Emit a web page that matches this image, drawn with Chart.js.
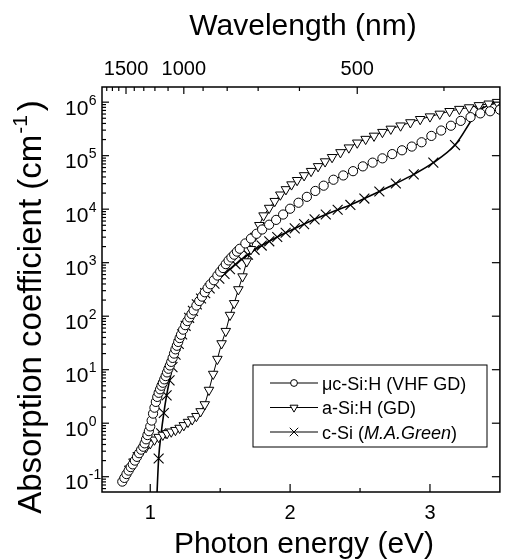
<!DOCTYPE html>
<html>
<head>
<meta charset="utf-8">
<script src="https://cdn.jsdelivr.net/npm/chart.js@4/dist/chart.umd.min.js"></script>
<style>
html, body { margin: 0; padding: 0; overflow: hidden; background: #fff; }
#wrap { width: 508px; height: 560px; }
</style>
</head>
<body>
<div id="wrap"><canvas id="absgraph" width="508" height="560"></canvas></div>
<script>
// photon energy (eV) / absorption coefficient (cm^-1)
const muEnergy = [0.80, 0.815, 0.83, 0.845, 0.86, 0.875, 0.89, 0.905, 0.92, 0.935, 0.95, 0.96, 0.97, 0.98, 0.99, 1.00, 1.01, 1.02, 1.03, 1.04,
  1.05, 1.06, 1.07, 1.08, 1.09, 1.10, 1.11, 1.12, 1.13, 1.14, 1.15, 1.16, 1.17, 1.18, 1.19, 1.20, 1.21, 1.22, 1.235, 1.25,
  1.265, 1.28, 1.295, 1.31, 1.33, 1.35, 1.37, 1.39, 1.41, 1.43, 1.455, 1.48, 1.50, 1.52, 1.54, 1.56, 1.58, 1.60, 1.62, 1.64,
  1.68, 1.72, 1.76, 1.80, 1.85, 1.90, 1.95, 2.00, 2.06, 2.12, 2.18, 2.24, 2.31, 2.38, 2.45, 2.52, 2.59, 2.66, 2.73, 2.80,
  2.87, 2.94, 3.01, 3.08, 3.15, 3.22, 3.29, 3.36, 3.43, 3.50];
const muAlpha = [0.081, 0.095, 0.112, 0.13, 0.151, 0.17, 0.20, 0.235, 0.275, 0.32, 0.363, 0.42, 0.50, 0.60, 0.71, 0.87, 1.12, 1.51, 1.95, 2.5,
  3.1, 3.7, 4.3, 5.0, 5.7, 6.6, 7.6, 8.9, 10.4, 12, 14, 16.6, 20, 24, 28, 33, 39, 45, 56, 68,
  81, 95, 110, 128, 158, 192, 232, 280, 335, 395, 470, 575, 680, 794, 940, 1100, 1250, 1410, 1610, 1820,
  2290, 2820, 3470, 4170, 5130, 6310, 7940, 10200, 13200, 17000, 21900, 27500, 35500, 42700, 51300, 63100, 74100, 89100, 107000, 126000,
  148000, 178000, 234000, 295000, 363000, 447000, 525000, 617000, 676000, 724000];

const aEnergy = [0.85, 0.88, 0.91, 0.94, 0.97, 1.00, 1.03, 1.06, 1.09, 1.12, 1.15, 1.18, 1.21, 1.24, 1.27, 1.30, 1.33, 1.36, 1.39, 1.42,
  1.45, 1.48, 1.51, 1.54, 1.57, 1.60, 1.63, 1.66, 1.69, 1.72, 1.75, 1.78, 1.81, 1.85, 1.89, 1.93, 1.97, 2.01, 2.05, 2.10,
  2.15, 2.20, 2.25, 2.30, 2.36, 2.42, 2.48, 2.54, 2.60, 2.66, 2.72, 2.79, 2.86, 2.93, 3.00, 3.07, 3.14, 3.21, 3.28, 3.35, 3.42, 3.48];
const aAlpha = [0.141, 0.191, 0.251, 0.302, 0.355, 0.417, 0.49, 0.55, 0.603, 0.646, 0.692, 0.741, 0.813, 0.912, 1.05, 1.17, 1.35, 1.66, 2.24, 4.17,
  8.3, 15.8, 30.9, 52.5, 105, 174, 316, 550, 1050, 1780, 3160, 5010, 7590, 10500, 14100, 18600, 23400, 28800, 34700, 42700,
  51300, 63100, 77600, 93300, 115000, 141000, 174000, 204000, 234000, 275000, 316000, 363000, 417000, 479000, 537000, 603000, 676000, 741000, 794000, 871000, 933000, 1000000];

const cEnergy = [1.042, 1.060, 1.078, 1.097, 1.117, 1.138, 1.159, 1.181, 1.204, 1.228, 1.253, 1.278, 1.305, 1.333, 1.363, 1.393, 1.425, 1.459, 1.494, 1.531,
  1.570, 1.610, 1.653, 1.699, 1.746, 1.797, 1.851, 1.908, 1.968, 2.033, 2.100, 2.175, 2.255, 2.340, 2.431, 2.531, 2.638, 2.756, 2.884, 3.024,
  3.179, 3.351, 3.543];
const cAlpha = [0.02, 0.219, 0.646, 1.55, 3.31, 6.31, 11.2, 19.1, 30.2, 45.7, 66.1, 93.3, 126, 166, 214, 269, 331, 407, 501, 617,
  759, 933, 1150, 1410, 1740, 2090, 2510, 3020, 3630, 4370, 5250, 6460, 7940, 9770, 12000, 15800, 21400, 30200, 44700, 74100,
  158000, 692000, 1070000];

const energyTicks = [1, 2, 3];
const energyMinor = [1.5, 2.5];
const waveTicks = [1500, 1000, 500];
const waveMinor = [1800, 1700, 1600, 1400, 1300, 1200, 1100, 900, 800, 700, 600, 400];
const decades = [-1, 0, 1, 2, 3, 4, 5, 6];
const seriesNames = ['\u03bcc-Si:H (VHF GD)', 'a-Si:H (GD)', 'c-Si (M.A.Green)'];

const FONT = '"Liberation Sans", Arial, sans-serif';

function pairs(xs, ys) {
    return xs.map((x, i) => ({ x: x, y: ys[i] }));
}

function marker(ctx, style, x, y, r) {
    ctx.beginPath();
    if (style === 'circle') {
        ctx.arc(x, y, r, 0, Math.PI * 2);
        ctx.fillStyle = '#fff'; ctx.fill(); ctx.stroke();
    } else if (style === 'triangle') {
        ctx.moveTo(x - r * 0.866, y - r * 0.5);
        ctx.lineTo(x + r * 0.866, y - r * 0.5);
        ctx.lineTo(x, y + r);
        ctx.closePath();
        ctx.fillStyle = '#fff'; ctx.fill(); ctx.stroke();
    } else {
        const d = r * 0.707;
        ctx.moveTo(x - d, y - d); ctx.lineTo(x + d, y + d);
        ctx.moveTo(x - d, y + d); ctx.lineTo(x + d, y - d);
        ctx.stroke();
    }
}

// frame, inward ticks, tick labels, titles and legend
const decorations = {
    id: 'decorations',
    afterDatasetsDraw(chart) {
        const ctx = chart.ctx;
        const a = chart.chartArea;
        const xs = chart.scales.x;
        const ys = chart.scales.y;
        ctx.save();
        ctx.strokeStyle = '#000';
        ctx.fillStyle = '#000';

        const line = (x1, y1, x2, y2) => { ctx.beginPath(); ctx.moveTo(x1, y1); ctx.lineTo(x2, y2); ctx.stroke(); };

        ctx.lineWidth = 1.2;
        energyTicks.forEach(e => { const x = xs.getPixelForValue(e); line(x, a.bottom, x, a.bottom - 8); });
        energyMinor.forEach(e => { const x = xs.getPixelForValue(e); line(x, a.bottom, x, a.bottom - 4); });
        waveTicks.forEach(w => { const x = xs.getPixelForValue(1240 / w); line(x, a.top, x, a.top + 7); });
        waveMinor.forEach(w => { const x = xs.getPixelForValue(1240 / w); line(x, a.top, x, a.top + 4); });
        decades.forEach(d => {
            const y = ys.getPixelForValue(Math.pow(10, d));
            line(a.left, y, a.left + 7, y);
            line(a.right, y, a.right - 8, y);
            for (let m = 2; m <= 9; m++) {
                const v = m * Math.pow(10, d);
                if (v < ys.max) {
                    const ym = ys.getPixelForValue(v);
                    line(a.left, ym, a.left + 4, ym);
                }
            }
        });
        for (let m = 6; m <= 9; m++) {
            const ym = ys.getPixelForValue(m * 0.01);
            line(a.left, ym, a.left + 4, ym);
        }

        ctx.lineWidth = 1.5;
        ctx.strokeRect(a.left, a.top, a.right - a.left, a.bottom - a.top);

        // tick labels
        ctx.textBaseline = 'alphabetic';
        ctx.textAlign = 'center';
        ctx.font = '20px ' + FONT;
        energyTicks.forEach(e => ctx.fillText(String(e), xs.getPixelForValue(e), 519));
        waveTicks.forEach(w => ctx.fillText(String(w), xs.getPixelForValue(1240 / w), 75));

        ctx.textAlign = 'left';
        decades.forEach(d => {
            const y = ys.getPixelForValue(Math.pow(10, d));
            ctx.font = '21px ' + FONT;
            ctx.fillText('10', 65, y + 12.5);
            const w = ctx.measureText('10').width;
            ctx.font = '14px ' + FONT;
            ctx.fillText(d < 0 ? '-' + Math.abs(d) : String(d), 65 + w + 0.5, y + 2.5);
        });

        // axis titles
        ctx.textAlign = 'center';
        ctx.font = '30px ' + FONT;
        ctx.fillText('Photon energy (eV)', 304, 553);
        ctx.fillText('Wavelength (nm)', 303, 35);

        ctx.save();
        ctx.translate(41, 307);
        ctx.rotate(-Math.PI / 2);
        ctx.textAlign = 'left';
        const main = 'Absorption coefficient (cm';
        ctx.font = '33px ' + FONT;
        const w1 = ctx.measureText(main).width;
        ctx.font = '21px ' + FONT;
        const w2 = ctx.measureText('-1').width;
        ctx.font = '33px ' + FONT;
        const w3 = ctx.measureText(')').width;
        const x0 = -(w1 + w2 + 5 + w3) / 2;
        ctx.fillText(main, x0, 0);
        ctx.font = '21px ' + FONT;
        ctx.fillText('-1', x0 + w1 + 1, -14);
        ctx.font = '33px ' + FONT;
        ctx.fillText(')', x0 + w1 + w2 + 5, 0);
        ctx.restore();

        // legend
        const bx = 253, by = 365, bw = 234, bh = 82;
        ctx.fillStyle = '#fff';
        ctx.fillRect(bx, by, bw, bh);
        ctx.lineWidth = 1;
        ctx.strokeRect(bx, by, bw, bh);
        const rows = [383, 407.5, 432];
        const styles = ['circle', 'triangle', 'cross'];
        const sizes = [3.4, 4.6, 6];
        rows.forEach((ry, i) => {
            ctx.lineWidth = 1.2;
            line(270, ry, 318, ry);
            ctx.lineWidth = 1;
            marker(ctx, styles[i], 294, ry, sizes[i]);
            ctx.fillStyle = '#000';
            ctx.textAlign = 'left';
            ctx.font = '18px ' + FONT;
            if (i < 2) {
                ctx.fillText(seriesNames[i], 322, ry + 6.5);
            } else {
                const pre = 'c-Si (';
                ctx.fillText(pre, 322, ry + 6.5);
                let x = 322 + ctx.measureText(pre).width;
                ctx.font = 'italic 18px ' + FONT;
                ctx.fillText('M.A.Green', x, ry + 6.5);
                x += ctx.measureText('M.A.Green').width;
                ctx.font = '18px ' + FONT;
                ctx.fillText(')', x, ry + 6.5);
            }
        });
        ctx.restore();
    }
};

const data = {
    datasets: [{
        label: seriesNames[0],
        data: pairs(muEnergy, muAlpha),
        borderColor: '#000',
        borderWidth: 1,
        pointStyle: 'circle',
        pointRadius: 4.6,
        pointBackgroundColor: '#fff',
        pointBorderColor: '#000',
        pointBorderWidth: 1
    }, {
        label: seriesNames[1],
        data: pairs(aEnergy, aAlpha),
        borderColor: '#000',
        borderWidth: 1,
        pointStyle: 'triangle',
        pointRotation: 180,
        pointRadius: 5.5,
        pointBackgroundColor: '#fff',
        pointBorderColor: '#000',
        pointBorderWidth: 1
    }, {
        label: seriesNames[2],
        data: pairs(cEnergy, cAlpha),
        borderColor: '#000',
        borderWidth: 1.6,
        cubicInterpolationMode: 'monotone',
        pointStyle: 'crossRot',
        pointRadius: 7,
        pointBorderColor: '#000',
        pointBorderWidth: 1.1
    }]
};

const options = {
    responsive: false,
    animation: false,
    events: [],
    layout: { padding: { left: 102, right: 1.5, top: 87, bottom: 68 } },
    scales: {
        x: { type: 'linear', min: 0.655, max: 3.5, display: false },
        y: { type: 'logarithmic', min: 0.0518, max: 1.92e6, display: false }
    },
    plugins: {
        legend: { display: false },
        tooltip: { enabled: false }
    }
};

new Chart(document.getElementById('absgraph').getContext('2d'), {
    type: 'line',
    data: data,
    options: options,
    plugins: [decorations]
});
</script>
</body>
</html>
